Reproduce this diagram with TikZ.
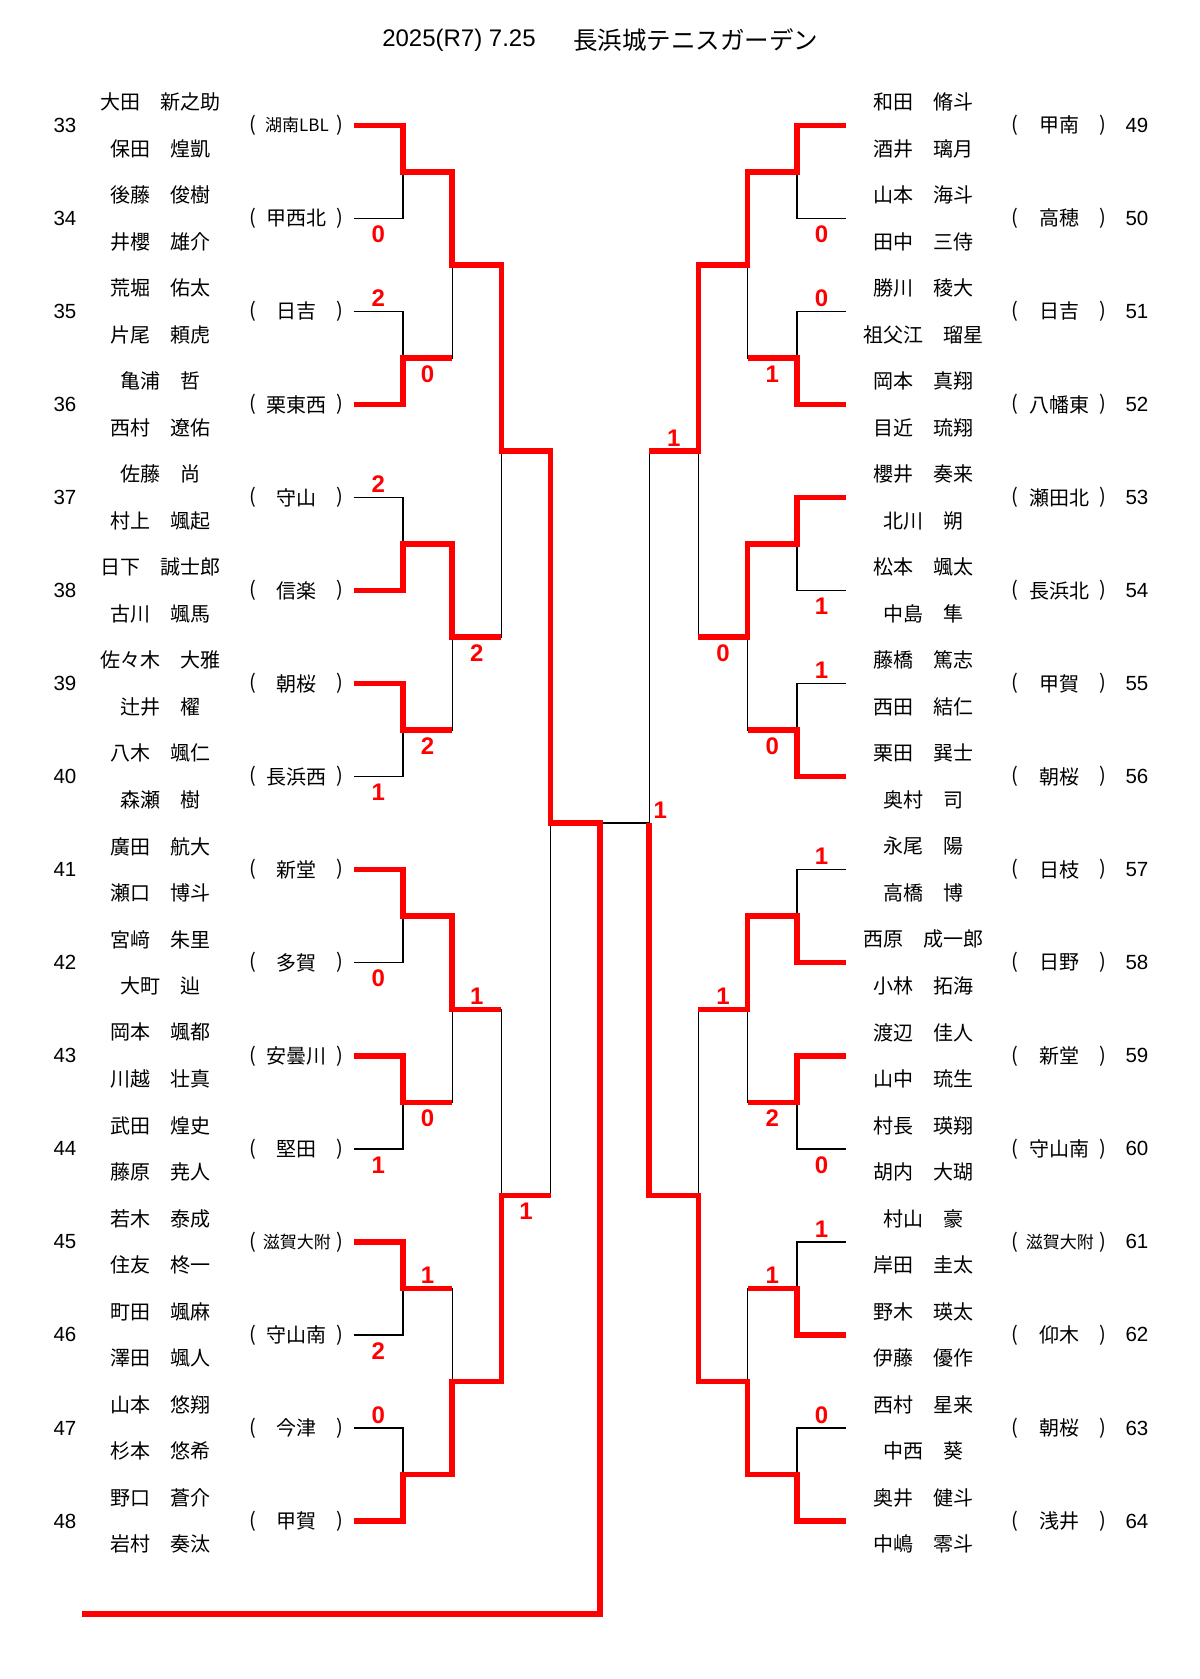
\documentclass[tikz,border=0pt]{standalone}
\usepackage{fontspec}
\setmainfont{Liberation Sans}
\newfontfamily\jpfont{Noto Sans CJK JP}
\newcommand{\smallteam}{\fontsize{17}{17}\selectfont}

% one pair on the left: row, number, upper name, lower name, school
\newcommand{\LEntry}[5]{%
  \node[NumStyle] (n#2) at (65,#1) {#2};
  \node[NameStyle] (u#2) at (161,#1-0.25) {#3};
  \node[NameStyle] (l#2) at (161,#1+0.25) {#4};
  \node[ParStyle] (po#2) at (253,#1) {(};
  \node[TeamStyle] (t#2) at (297,#1) {#5};
  \node[ParStyle] (pc#2) at (340,#1) {)};
  \coordinate (e#2) at (353.75,#1);
}
% one pair on the right
\newcommand{\REntry}[5]{%
  \node[NumStyle] (n#2) at (1137,#1) {#2};
  \node[NameStyle] (u#2) at (924,#1-0.25) {#3};
  \node[NameStyle] (l#2) at (924,#1+0.25) {#4};
  \node[ParStyle] (po#2) at (1015,#1) {(};
  \node[TeamStyle] (t#2) at (1060,#1) {#5};
  \node[ParStyle] (pc#2) at (1103,#1) {)};
  \coordinate (e#2) at (846.25,#1);
}

\begin{document}
\begin{tikzpicture}[x=1pt,y=-93.05pt]
	\tikzset{LineStyle/.style={draw=black,line width=1.4pt},
		WinStyle/.style={draw=red,line width=5.5pt},
		NumStyle/.style={font=\fontsize{20.5}{21}\selectfont,inner sep=0pt},
		NameStyle/.style={font=\jpfont\fontsize{20}{20}\selectfont,inner sep=0pt},
		TeamStyle/.style={font=\jpfont\fontsize{20}{20}\selectfont,inner sep=0pt},
		ParStyle/.style={font=\jpfont\fontsize{20}{20}\selectfont,inner sep=0pt},
		ScoreUp/.style={text=red,font=\fontsize{24}{24}\selectfont\bfseries,inner sep=0pt,yshift=13pt},
		ScoreDown/.style={text=red,font=\fontsize{24}{24}\selectfont\bfseries,inner sep=0pt,yshift=-16pt},
		TitleStyle/.style={font=\fontsize{24}{24}\selectfont,inner sep=0pt}}
	\useasboundingbox (0,-1.3466) rectangle (1200,16.698);

	\node[TitleStyle] (date) at (459,-0.917) {2025(R7) 7.25};
	\node[TitleStyle,font=\jpfont\fontsize{24.5}{25}\selectfont] (venue) at (696,-0.917) {長浜城テニスガーデン};

	\LEntry{0}{33}{大田　新之助}{保田　煌凱}{\smallteam 湖南LBL}
	\LEntry{1}{34}{後藤　俊樹}{井櫻　雄介}{甲西北}
	\LEntry{2}{35}{荒堀　佑太}{片尾　頼虎}{日吉}
	\LEntry{3}{36}{亀浦　哲}{西村　遼佑}{栗東西}
	\LEntry{4}{37}{佐藤　尚}{村上　颯起}{守山}
	\LEntry{5}{38}{日下　誠士郎}{古川　颯馬}{信楽}
	\LEntry{6}{39}{佐々木　大雅}{辻井　櫂}{朝桜}
	\LEntry{7}{40}{八木　颯仁}{森瀬　樹}{長浜西}
	\LEntry{8}{41}{廣田　航大}{瀬口　博斗}{新堂}
	\LEntry{9}{42}{宮﨑　朱里}{大町　辿}{多賀}
	\LEntry{10}{43}{岡本　颯都}{川越　壮真}{安曇川}
	\LEntry{11}{44}{武田　煌史}{藤原　尭人}{堅田}
	\LEntry{12}{45}{若木　泰成}{住友　柊一}{\smallteam 滋賀大附}
	\LEntry{13}{46}{町田　颯麻}{澤田　颯人}{守山南}
	\LEntry{14}{47}{山本　悠翔}{杉本　悠希}{今津}
	\LEntry{15}{48}{野口　蒼介}{岩村　奏汰}{甲賀}

	\REntry{0}{49}{和田　脩斗}{酒井　璃月}{甲南}
	\REntry{1}{50}{山本　海斗}{田中　三侍}{高穂}
	\REntry{2}{51}{勝川　稜大}{祖父江　瑠星}{日吉}
	\REntry{3}{52}{岡本　真翔}{目近　琉翔}{八幡東}
	\REntry{4}{53}{櫻井　奏来}{北川　朔}{瀬田北}
	\REntry{5}{54}{松本　颯太}{中島　隼}{長浜北}
	\REntry{6}{55}{藤橋　篤志}{西田　結仁}{甲賀}
	\REntry{7}{56}{栗田　巽士}{奥村　司}{朝桜}
	\REntry{8}{57}{永尾　陽}{高橋　博}{日枝}
	\REntry{9}{58}{西原　成一郎}{小林　拓海}{日野}
	\REntry{10}{59}{渡辺　佳人}{山中　琉生}{新堂}
	\REntry{11}{60}{村長　瑛翔}{胡内　大瑚}{守山南}
	\REntry{12}{61}{村山　豪}{岸田　圭太}{\smallteam 滋賀大附}
	\REntry{13}{62}{野木　瑛太}{伊藤　優作}{仰木}
	\REntry{14}{63}{西村　星来}{中西　葵}{朝桜}
	\REntry{15}{64}{奥井　健斗}{中嶋　零斗}{浅井}

	% match points
	\coordinate (L1a) at (403,0.5);   \coordinate (L1b) at (403,2.5);
	\coordinate (L1c) at (403,4.5);   \coordinate (L1d) at (403,6.5);
	\coordinate (L1e) at (403,8.5);   \coordinate (L1f) at (403,10.5);
	\coordinate (L1g) at (403,12.5);  \coordinate (L1h) at (403,14.5);
	\coordinate (L2a) at (452.25,1.5);  \coordinate (L2b) at (452.25,5.5);
	\coordinate (L2c) at (452.25,9.5);  \coordinate (L2d) at (452.25,13.5);
	\coordinate (L3a) at (501.5,3.5);   \coordinate (L3b) at (501.5,11.5);
	\coordinate (L4) at (550.75,7.5);
	\coordinate (R1a) at (797,0.5);   \coordinate (R1b) at (797,2.5);
	\coordinate (R1c) at (797,4.5);   \coordinate (R1d) at (797,6.5);
	\coordinate (R1e) at (797,8.5);   \coordinate (R1f) at (797,10.5);
	\coordinate (R1g) at (797,12.5);  \coordinate (R1h) at (797,14.5);
	\coordinate (R2a) at (747.75,1.5);  \coordinate (R2b) at (747.75,5.5);
	\coordinate (R2c) at (747.75,9.5);  \coordinate (R2d) at (747.75,13.5);
	\coordinate (R3a) at (698.5,3.5);   \coordinate (R3b) at (698.5,11.5);
	\coordinate (R4) at (649.25,7.5);
	\coordinate (F) at (600,7.5);
	\coordinate (Fb) at (600,16);
	\coordinate (champ) at (82,16);

	% the whole bracket in black
	\draw[LineStyle] (e33) -| (L1a) |- (e34);
	\draw[LineStyle] (e35) -| (L1b) |- (e36);
	\draw[LineStyle] (e37) -| (L1c) |- (e38);
	\draw[LineStyle] (e39) -| (L1d) |- (e40);
	\draw[LineStyle] (e41) -| (L1e) |- (e42);
	\draw[LineStyle] (e43) -| (L1f) |- (e44);
	\draw[LineStyle] (e45) -| (L1g) |- (e46);
	\draw[LineStyle] (e47) -| (L1h) |- (e48);
	\draw[LineStyle] (L1a) -| (L2a) |- (L1b);
	\draw[LineStyle] (L1c) -| (L2b) |- (L1d);
	\draw[LineStyle] (L1e) -| (L2c) |- (L1f);
	\draw[LineStyle] (L1g) -| (L2d) |- (L1h);
	\draw[LineStyle] (L2a) -| (L3a) |- (L2b);
	\draw[LineStyle] (L2c) -| (L3b) |- (L2d);
	\draw[LineStyle] (L3a) -| (L4) |- (L3b);
	\draw[LineStyle] (e49) -| (R1a) |- (e50);
	\draw[LineStyle] (e51) -| (R1b) |- (e52);
	\draw[LineStyle] (e53) -| (R1c) |- (e54);
	\draw[LineStyle] (e55) -| (R1d) |- (e56);
	\draw[LineStyle] (e57) -| (R1e) |- (e58);
	\draw[LineStyle] (e59) -| (R1f) |- (e60);
	\draw[LineStyle] (e61) -| (R1g) |- (e62);
	\draw[LineStyle] (e63) -| (R1h) |- (e64);
	\draw[LineStyle] (R1a) -| (R2a) |- (R1b);
	\draw[LineStyle] (R1c) -| (R2b) |- (R1d);
	\draw[LineStyle] (R1e) -| (R2c) |- (R1f);
	\draw[LineStyle] (R1g) -| (R2d) |- (R1h);
	\draw[LineStyle] (R2a) -| (R3a) |- (R2b);
	\draw[LineStyle] (R2c) -| (R3b) |- (R2d);
	\draw[LineStyle] (R3a) -| (R4) |- (R3b);
	\draw[LineStyle] (R4) -- (F);

	% winners in red
	\draw[WinStyle] (e33) -| (L1a) -| (L2a) -| (L3a) -| (L4) -| (Fb) -- (champ);
	\draw[WinStyle] (e36) -| (L1b) -- (L1b -| L2a);
	\draw[WinStyle] (e38) -| (L1c) -| (L2b) -- (L2b -| L3a);
	\draw[WinStyle] (e39) -| (L1d) -- (L1d -| L2b);
	\draw[WinStyle] (e41) -| (L1e) -| (L2c) -- (L2c -| L3b);
	\draw[WinStyle] (e43) -| (L1f) -- (L1f -| L2c);
	\draw[WinStyle] (e45) -| (L1g) -- (L1g -| L2d);
	\draw[WinStyle] (e48) -| (L1h) -| (L2d) -| (L3b) -- (L3b -| L4);
	\draw[WinStyle] (e49) -| (R1a) -| (R2a) -| (R3a) -- (R3a -| R4);
	\draw[WinStyle] (e52) -| (R1b) -- (R1b -| R2a);
	\draw[WinStyle] (e53) -| (R1c) -| (R2b) -- (R2b -| R3a);
	\draw[WinStyle] (e56) -| (R1d) -- (R1d -| R2b);
	\draw[WinStyle] (e58) -| (R1e) -| (R2c) -- (R2c -| R3b);
	\draw[WinStyle] (e59) -| (R1f) -- (R1f -| R2c);
	\draw[WinStyle] (e62) -| (R1g) -- (R1g -| R2d);
	\draw[WinStyle] (e64) -| (R1h) -| (R2d) -| (R3b) -| (R4);

	% scores
	\path (e34) -- (e34 -| L1a) node[midway,ScoreDown] (s34) {0};
	\path (e35) -- (e35 -| L1b) node[midway,ScoreUp] (s35) {2};
	\path (L1b) -- (L1b -| L2a) node[midway,ScoreDown] (s36) {0};
	\path (e37) -- (e37 -| L1c) node[midway,ScoreUp] (s37) {2};
	\path (L2b) -- (L2b -| L3a) node[midway,ScoreDown] (s38) {2};
	\path (L1d) -- (L1d -| L2b) node[midway,ScoreDown] (s39) {2};
	\path (e40) -- (e40 -| L1d) node[midway,ScoreDown] (s40) {1};
	\path (L2c) -- (L2c -| L3b) node[midway,ScoreUp] (s41) {1};
	\path (e42) -- (e42 -| L1e) node[midway,ScoreDown] (s42) {0};
	\path (L1f) -- (L1f -| L2c) node[midway,ScoreDown] (s43) {0};
	\path (e44) -- (e44 -| L1f) node[midway,ScoreDown] (s44) {1};
	\path (L1g) -- (L1g -| L2d) node[midway,ScoreUp] (s45) {1};
	\path (e46) -- (e46 -| L1g) node[midway,ScoreDown] (s46) {2};
	\path (e47) -- (e47 -| L1h) node[midway,ScoreUp] (s47) {0};
	\path (L3b) -- (L3b -| L4) node[midway,ScoreDown] (s48) {1};
	\path (R3a) -- (R3a -| R4) node[midway,ScoreUp] (s49) {1};
	\path (e50) -- (e50 -| R1a) node[midway,ScoreDown] (s50) {0};
	\path (e51) -- (e51 -| R1b) node[midway,ScoreUp] (s51) {0};
	\path (R1b) -- (R1b -| R2a) node[midway,ScoreDown] (s52) {1};
	\path (R2b) -- (R2b -| R3a) node[midway,ScoreDown] (s53) {0};
	\path (e54) -- (e54 -| R1c) node[midway,ScoreDown] (s54) {1};
	\path (e55) -- (e55 -| R1d) node[midway,ScoreUp] (s55) {1};
	\path (R1d) -- (R1d -| R2b) node[midway,ScoreDown] (s56) {0};
	\path (e57) -- (e57 -| R1e) node[midway,ScoreUp] (s57) {1};
	\path (R2c) -- (R2c -| R3b) node[midway,ScoreUp] (s58) {1};
	\path (R1f) -- (R1f -| R2c) node[midway,ScoreDown] (s59) {2};
	\path (e60) -- (e60 -| R1f) node[midway,ScoreDown] (s60) {0};
	\path (e61) -- (e61 -| R1g) node[midway,ScoreUp] (s61) {1};
	\path (R1g) -- (R1g -| R2d) node[midway,ScoreUp] (s62) {1};
	\path (e63) -- (e63 -| R1h) node[midway,ScoreUp] (s63) {0};
	\node[ScoreUp] (s64) at ([xshift=11pt]R4) {1};
\end{tikzpicture}
\end{document}
